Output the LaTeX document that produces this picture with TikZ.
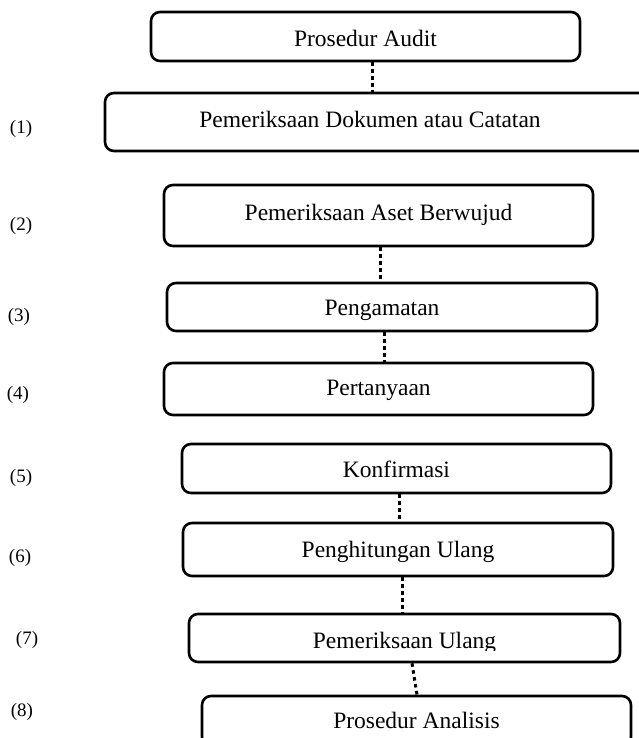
\documentclass[tikz,border=0pt]{standalone}
\usepackage{fontspec}
\setmainfont{Liberation Serif}
\begin{document}
\begin{tikzpicture}[x=1pt,y=-1pt,
  boxshape/.style={draw, line width=2.6pt, rounded corners=9pt, inner sep=0pt},
  boxtext/.style={anchor=base, inner sep=0pt, font=\fontsize{23.5}{28}\selectfont},
  numlabel/.style={inner sep=0pt, font=\fontsize{19}{23}\selectfont},
  dotline/.style={line width=3pt, dash pattern=on 3.5pt off 3.5pt}]
\useasboundingbox (0,0) rectangle (639,738);
\clip (0,0) rectangle (639,738);
\fill[white] (0,0) rectangle (639,738);

% procedure boxes
\node[boxshape, minimum width=429pt, minimum height=49pt] (b0) at (365.5,36.5) {};
\node[boxshape, minimum width=543pt, minimum height=58pt] (b1) at (376.5,122) {};
\node[boxshape, minimum width=429pt, minimum height=61pt] (b2) at (378.5,215.5) {};
\node[boxshape, minimum width=430pt, minimum height=48pt] (b3) at (382,307) {};
\node[boxshape, minimum width=429pt, minimum height=52pt] (b4) at (378.5,389) {};
\node[boxshape, minimum width=429pt, minimum height=49pt] (b5) at (396.5,468.5) {};
\node[boxshape, minimum width=430pt, minimum height=53pt] (b6) at (398,549.5) {};
\node[boxshape, minimum width=431pt, minimum height=48pt] (b7) at (404.5,638) {};
\node[boxshape, minimum width=429pt, minimum height=50pt] (b8) at (416.5,721) {};

% box captions
\node[boxtext] (t0) at (b0.center |- 0,47) {Prosedur Audit};
\node[boxtext] (t1) at (370,128) {Pemeriksaan Dokumen atau Catatan};
\node[boxtext] (t2) at (b2.center |- 0,220) {Pemeriksaan Aset Berwujud};
\node[boxtext] (t3) at (b3.center |- 0,315) {Pengamatan};
\node[boxtext] (t4) at (b4.center |- 0,395) {Pertanyaan};
\node[boxtext] (t5) at (b5.center |- 0,477) {Konfirmasi};
\node[boxtext] (t6) at (b6.center |- 0,557) {Penghitungan Ulang};
\begin{scope}
  \clip (b7.north west) rectangle (b7.east |- 0,650.5);
  \node[boxtext] (t7) at (b7.center |- 0,648) {Pemeriksaan Ulang};
\end{scope}
\node[boxtext] (t8) at (b8.center |- 0,728) {Prosedur Analisis};

% dotted links
\draw[dotline] ([xshift=6.5pt]b0.south) -- ([xshift=6.5pt]b0.south |- b1.north);
\draw[dotline] ([xshift=1.5pt]b2.south) -- ([xshift=1.5pt]b2.south |- b3.north);
\draw[dotline] ([xshift=2pt]b3.south) -- ([xshift=2pt]b3.south |- b4.north);
\draw[dotline] ([xshift=2.5pt]b5.south) -- ([xshift=2.5pt]b5.south |- b6.north);
\draw[dotline] ([xshift=4pt]b6.south) -- ([xshift=4pt]b6.south |- b7.north);
\draw[dotline] ([xshift=7.5pt]b7.south) -- ([xshift=0.5pt]b8.north);

% step numbers
\node[numlabel] (l1) at (21,129) {(1)};
\node[numlabel] (l2) at (21,226) {(2)};
\node[numlabel] (l3) at (19,317) {(3)};
\node[numlabel] (l4) at (18,395) {(4)};
\node[numlabel] (l5) at (21,478) {(5)};
\node[numlabel] (l6) at (20,558) {(6)};
\node[numlabel] (l7) at (27,640) {(7)};
\node[numlabel] (l8) at (22,712) {(8)};
\end{tikzpicture}
\end{document}
